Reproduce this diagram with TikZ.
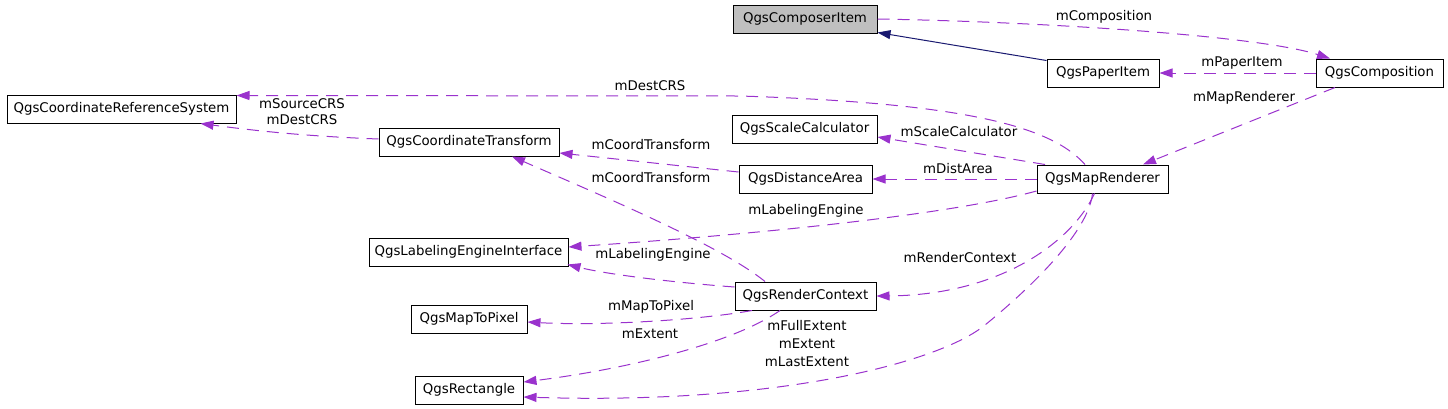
\documentclass[tikz,border=0pt]{standalone}
\usepackage{fontspec}
\setmainfont{DejaVu Sans}
\usetikzlibrary{arrows.meta,calc}
\definecolor{edgepurple}{HTML}{9A32CD}
\definecolor{edgenavy}{HTML}{191970}
\definecolor{boxgrey}{HTML}{BFBFBF}
\tikzset{
  cls/.style={draw=black, line width=1pt, inner sep=0pt, minimum height=28pt, font=\fontsize{13.33}{16}\selectfont},
  lbl/.style={inner sep=0pt, font=\fontsize{13.33}{16}\selectfont},
  uses/.style={draw=edgepurple, line width=1pt, dash pattern=on 12pt off 8pt, -{Triangle[length=13pt,width=9pt]}},
  inherits/.style={draw=edgenavy, line width=1pt, -{Triangle[length=13pt,width=9pt]}}
}
\begin{document}
\begin{tikzpicture}[x=1pt,y=-1pt]
\useasboundingbox (0,0) rectangle (1448,408);
% nodes
\node[cls, fill=boxgrey, minimum width=144pt] (ci) at (805,19) {QgsComposerItem};
\node[cls, minimum width=112pt] (pi) at (1103,73) {QgsPaperItem};
\node[cls, minimum width=127pt] (cm) at (1379.5,73) {QgsComposition};
\node[cls, minimum width=229pt] (crs) at (121.5,109) {QgsCoordinateReferenceSystem};
\node[cls, minimum width=180pt] (ct) at (469,142) {QgsCoordinateTransform};
\node[cls, minimum width=145pt] (sc) at (804.5,129) {QgsScaleCalculator};
\node[cls, minimum width=133pt] (da) at (805.5,179) {QgsDistanceArea};
\node[cls, minimum width=131pt] (mr) at (1102.5,179) {QgsMapRenderer};
\node[cls, minimum width=199pt] (lei) at (468.5,252) {QgsLabelingEngineInterface};
\node[cls, minimum width=141pt] (rc) at (805.5,296) {QgsRenderContext};
\node[cls, minimum width=116pt] (mtp) at (469,319) {QgsMapToPixel};
\node[cls, minimum width=108pt] (rect) at (469,390) {QgsRectangle};
% edges
\draw[uses] (ci.east) .. controls (1050,22) and (1260,36) .. ($(cm.north)+(-49.5,0)$);
\draw[inherits] ($(pi.north west)+(0,2)$) -- ($(ci.south east)+(0,-1)$);
\draw[uses] (cm.west) -- (pi.east);
\draw[uses] ($(cm.south)+(-44.5,0)$) -- ($(mr.north)+(40.5,0)$);
\draw[uses] ($(mr.north)+(-17.5,0)$) .. controls (1050,125) and (960,103) .. (740,96) -- ($(crs.north east)+(0,1)$);
\draw[uses] ($(ct.west)+(0,-3)$) .. controls (300,136) and (250,130) .. ($(crs.south east)+(-36,0)$);
\draw[uses] ($(mr.north)+(-57.5,0)$) -- ($(sc.east)+(0,8)$);
\draw[uses] (mr.west) -- (da.east);
\draw[uses] ($(da.west)+(0,-7)$) -- ($(ct.east)+(0,11)$);
\draw[uses] ($(rc.north)+(-40.5,0)$) .. controls (720,245) and (600,195) .. ($(ct.south)+(43,0)$);
\draw[uses] ($(mr.west)+(0,12)$) .. controls (950,215) and (750,235) .. ($(lei.east)+(0,-5)$);
\draw[uses] ($(rc.west)+(0,-9)$) .. controls (680,283) and (610,275) .. ($(lei.south east)+(-1,-2)$);
\draw[uses] ($(mr.south)+(-8,0)$) .. controls (1072,242) and (1000,295) .. (rc.east);
\draw[uses] ($(rc.south)+(-53.5,0)$) .. controls (700,320) and (600,326) .. ($(mtp.east)+(0,3)$);
\draw[uses] ($(rc.south)+(-25.5,0)$) .. controls (730,345) and (620,370) .. ($(rect.east)+(0,-8)$);
\draw[uses] ($(mr.south)+(-10,0)$) .. controls (1088,235) and (1022,295) .. (985,325) .. controls (940,362) and (780,405) .. ($(rect.east)+(0,7)$);
% labels
\node[lbl] (l1) at (1104,17) {mComposition};
\node[lbl] (l2) at (1242,63) {mPaperItem};
\node[lbl] (l3) at (1244,98) {mMapRenderer};
\node[lbl] (l4) at (650,86) {mDestCRS};
\node[lbl] (l5) at (302,104) {mSourceCRS};
\node[lbl] (l6) at (302,120) {mDestCRS};
\node[lbl] (l7) at (959,132) {mScaleCalculator};
\node[lbl] (l8) at (958,169) {mDistArea};
\node[lbl] (l9) at (651,145) {mCoordTransform};
\node[lbl] (l10) at (651,178) {mCoordTransform};
\node[lbl] (l11) at (806,211) {mLabelingEngine};
\node[lbl] (l12) at (653,255) {mLabelingEngine};
\node[lbl] (l13) at (960,258) {mRenderContext};
\node[lbl] (l14) at (651,307) {mMapToPixel};
\node[lbl] (l15) at (650,334) {mExtent};
\node[lbl] (l16) at (807,326) {mFullExtent};
\node[lbl] (l17) at (807,344) {mExtent};
\node[lbl] (l18) at (807,362) {mLastExtent};
\end{tikzpicture}
\end{document}
